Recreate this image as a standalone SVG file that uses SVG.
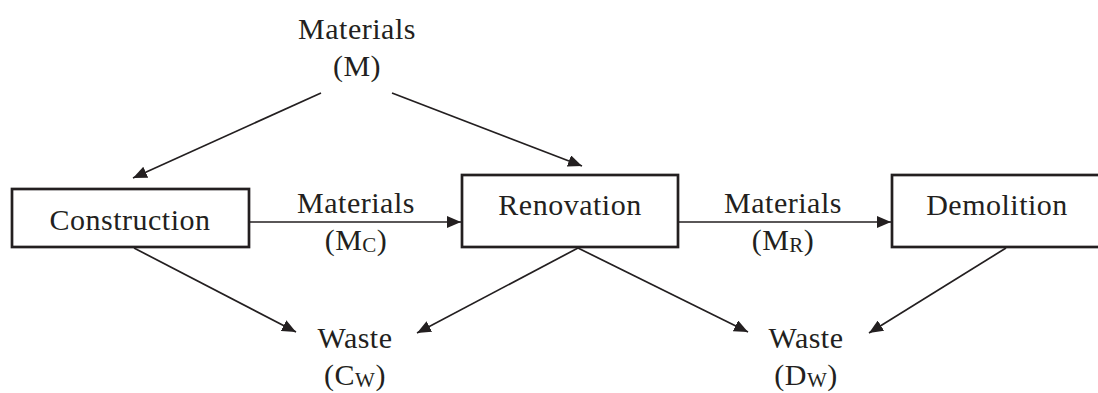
<svg xmlns="http://www.w3.org/2000/svg" width="1098" height="393" viewBox="0 0 1098 393">
<style>
.box{fill:#fff;stroke:#231f20;stroke-width:2.7}
.lbl{font-family:"Liberation Serif","Times New Roman",serif;font-size:30px;fill:#231f20;text-anchor:middle;letter-spacing:0.5px}
.sub{font-size:21px}
.con{stroke:#231f20;stroke-width:1.7;fill:none;marker-end:url(#ah)}
</style>
<defs>
<marker id="ah" viewBox="0 0 14 12" refX="14" refY="6" markerWidth="14" markerHeight="12" markerUnits="userSpaceOnUse" orient="auto">
<path d="M0,0 L14,6 L0,12 Z" fill="#231f20"/>
</marker>
</defs>
<rect width="1098" height="393" fill="#fff"/>
<g id="connectors">
<line class="con" x1="321" y1="93" x2="133" y2="178"/>
<line class="con" x1="392" y1="93" x2="582" y2="166"/>
<line class="con" x1="249" y1="222" x2="461" y2="222"/>
<line class="con" x1="679" y1="222" x2="891" y2="222"/>
<line class="con" x1="134" y1="248" x2="296" y2="332"/>
<line class="con" x1="578" y1="248" x2="417" y2="333"/>
<line class="con" x1="578" y1="248" x2="748" y2="332"/>
<line class="con" x1="1006" y1="248" x2="869" y2="333"/>
</g>
<g id="materials-m">
<text class="lbl" x="357" y="39">Materials</text>
<text class="lbl" x="357" y="76">(M)</text>
</g>
<g id="construction">
<rect class="box" x="12" y="189" width="237" height="58"/>
<text class="lbl" x="130" y="230">Construction</text>
</g>
<g id="renovation">
<rect class="box" x="462" y="175" width="216" height="72"/>
<text class="lbl" x="570" y="215">Renovation</text>
</g>
<g id="demolition">
<rect class="box" x="892" y="175" width="220" height="72"/>
<text class="lbl" x="997" y="215">Demolition</text>
</g>
<g id="materials-mc">
<text class="lbl" x="356" y="213">Materials</text>
<text class="lbl" x="356" y="250">(M<tspan class="sub" dy="2">C</tspan><tspan dy="-2">)</tspan></text>
</g>
<g id="materials-mr">
<text class="lbl" x="783" y="213">Materials</text>
<text class="lbl" x="783" y="250">(M<tspan class="sub" dy="2">R</tspan><tspan dy="-2">)</tspan></text>
</g>
<g id="waste-cw">
<text class="lbl" x="355" y="348">Waste</text>
<text class="lbl" x="355" y="385">(C<tspan class="sub" dy="2">W</tspan><tspan dy="-2">)</tspan></text>
</g>
<g id="waste-dw">
<text class="lbl" x="806" y="348">Waste</text>
<text class="lbl" x="806" y="385">(D<tspan class="sub" dy="2">W</tspan><tspan dy="-2">)</tspan></text>
</g>
</svg>
